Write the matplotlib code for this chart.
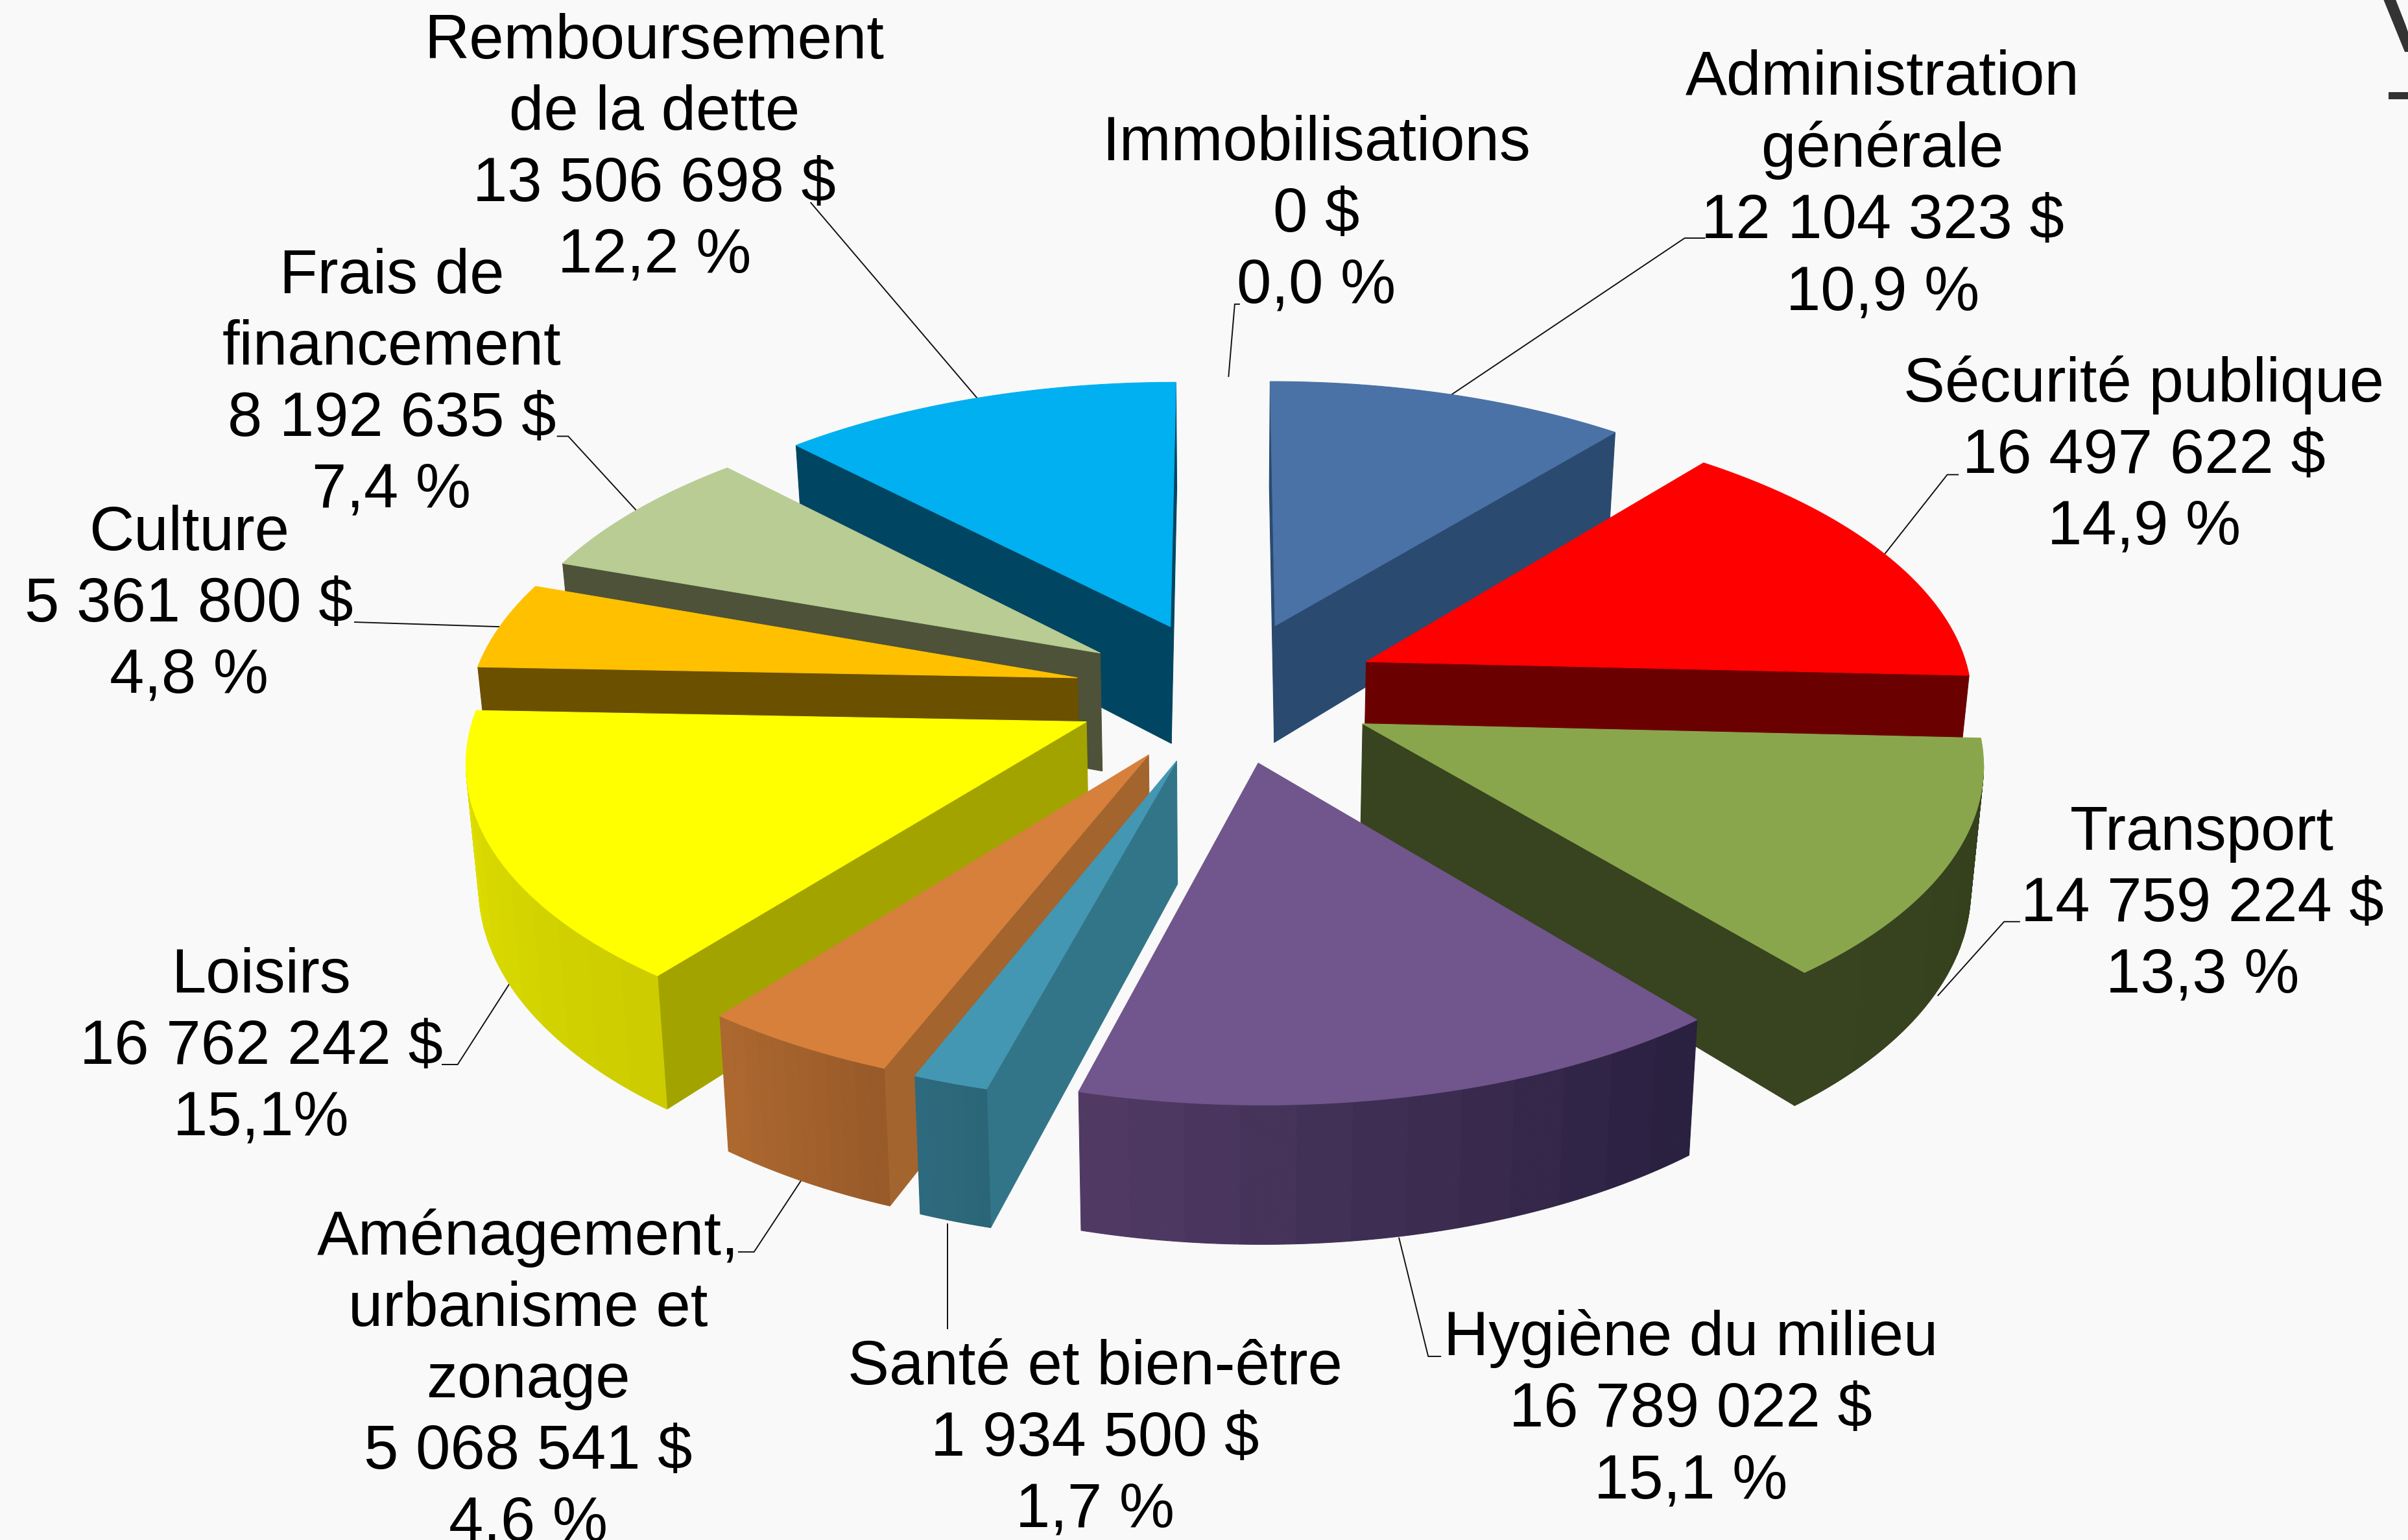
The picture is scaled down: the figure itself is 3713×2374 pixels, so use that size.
import numpy as np
import matplotlib
matplotlib.use('Agg')
import matplotlib.pyplot as plt

plt.rcParams['font.family'] = ['Liberation Sans', 'DejaVu Sans']

# postes de depenses, dans le sens horaire a partir de midi
noms = ['Administration\ngénérale', 'Sécurité publique', 'Transport', 'Hygiène du milieu',
        'Santé et bien-être', 'Aménagement,\nurbanisme et\nzonage', 'Loisirs', 'Culture',
        'Frais de\nfinancement', 'Remboursement\nde la dette', 'Immobilisations']
montants = [12104323, 16497622, 14759224, 16789022, 1934500, 5068541, 16762242, 5361800,
            8192635, 13506698, 0]
parts = ['10,9 %', '14,9 %', '13,3 %', '15,1 %', '1,7 %', '4,6 %', '15,1%', '4,8 %',
         '7,4 %', '12,2 %', '0,0 %']

# couleurs : dessus, paroi, tranche claire, tranche foncee
c_dessus = ['#4A72A6', '#FF0000', '#8AA64C', '#70568C', '#4397B2', '#D6803C', '#FFFF00',
            '#FFC000', '#B8CC94', '#00B0F0', '#000000']
c_paroi = ['#2A4A70', '#6B0000', '#38431F', '#2B2140', '#337588', '#A3642E', '#A3A300',
           '#6B5000', '#4D5238', '#004561', '#000000']
c_tranche1 = ['#2A4A70', '#6B0000', '#38431F', '#503A64', '#2E6A7D', '#AD682F', '#E2E200',
              '#6B5000', '#4D5238', '#004561', '#000000']
c_tranche2 = ['#2A4A70', '#6B0000', '#343F1C', '#2A2040', '#2B6578', '#985A29', '#CCCC00',
              '#6B5000', '#4D5238', '#004561', '#000000']

# position des etiquettes et des traits de rappel (en pixels de l'image reduite a 1568 de large)
etiq_x = [1226, 1396, 1434, 1101, 713, 344, 170, 123, 255, 426, 857]
etiq_y = [121, 297, 589, 918, 937, 899, 682, 394, 250, 97, 140]
rappels = [
    [(1110, 155), (1097, 155), (945, 257)],
    [(1275, 309), (1268, 309), (1227, 361)],
    [(1315, 600), (1305, 600), (1262, 648)],
    [(938, 883), (930, 883), (911, 806)],
    [(617, 865), (617, 797)],
    [(481, 815), (491, 815), (522, 768)],
    [(288, 693), (298, 693), (332, 640)],
    [(231, 405), (325, 408)],
    [(363, 284), (370, 284), (415, 333)],
    [(528, 132), (637, 260)],
    [(807, 198), (804, 198), (800, 245)],
]

S = 3713 / 1568
CX, CY = 798, 450     # centre de la tarte
RX, RY = 395, 186     # rayons
BX, BY = 0.115, 0.113 # perspective
H = 78                # epaisseur
explode = [0.25, 0.257, 0.25, 0.25, 0.25, 0.25, 0.25, 0.25, 0.25, 0.25, 0.25]


def proj(X, Y, z=0):
    # z=0 dessus, z=1 dessous
    X = np.asarray(X, dtype=float)
    Y = np.asarray(Y, dtype=float)
    z = np.asarray(z, dtype=float)
    fx = 1 / (1 - BX * Y)
    fy = 1 / (1 - BY * Y)
    x = CX + RX * X * fx * (1 - 0.017 * z)
    y = CY + RY * Y * fy + z * H * fy
    return x * S, y * S


def remplir(ax, X, Y, Z, couleur):
    x, y = proj(X, Y, Z)
    ax.fill(x, y, color=couleur, lw=0.8, zorder=2)


def melange(c1, c2, t):
    a = np.array(matplotlib.colors.to_rgb(c1))
    b = np.array(matplotlib.colors.to_rgb(c2))
    return a + (b - a) * t


fig = plt.figure(figsize=(37.13, 23.74), dpi=100, facecolor='#F9F9F9')
ax = fig.add_axes([0, 0, 1, 1])
ax.set_xlim(0, 3713)
ax.set_ylim(2374, 0)
ax.axis('off')

total = sum(montants)
bornes = np.cumsum([0] + montants) / total * 2 * np.pi
milieux = (bornes[:-1] + bornes[1:]) / 2

# traits de rappel sous les parts
for i in range(len(noms)):
    xs = [p[0] * S for p in rappels[i]]
    ys = [p[1] * S for p in rappels[i]]
    ax.plot(xs, ys, color='#111111', lw=1.4, zorder=1)

# du fond vers l'avant
ordre = np.argsort(-np.cos(milieux))
for i in ordre:
    if montants[i] == 0:
        continue
    a0, a1 = bornes[i], bornes[i + 1]
    ox = explode[i] * np.sin(milieux[i])
    oy = -explode[i] * np.cos(milieux[i])
    t = np.linspace(a0, a1, 120)
    rx = ox + np.sin(t)
    ry = oy - np.cos(t)

    # parois radiales
    cam = np.array([-ox, 1 / BX - oy])
    for a, sens in [(a0, -1), (a1, 1)]:
        n = sens * np.array([np.cos(a), np.sin(a)])
        if n @ cam > 0:
            ex = ox + np.sin(a)
            ey = oy - np.cos(a)
            remplir(ax, [ox, ex, ex, ox], [oy, ey, ey, oy], [0, 0, 1, 1], c_paroi[i])

    # tranche courbe, en petites bandes pour le degrade
    for k in range(len(t) - 1):
        mid = (t[k] + t[k + 1]) / 2
        nx, ny = np.sin(mid), -np.cos(mid)
        if nx * (0 - ox - nx) + ny * (1 / BX - oy - ny) > 0:
            u = np.floor((k / (len(t) - 1)) * 12) / 11
            # le degrade va de gauche a droite a l'ecran, donc a l'envers du sens horaire
            remplir(ax, [rx[k], rx[k + 1], rx[k + 1], rx[k]], [ry[k], ry[k + 1], ry[k + 1], ry[k]],
                    [0, 0, 1, 1], melange(c_tranche2[i], c_tranche1[i], u))

    # dessus
    remplir(ax, np.r_[ox, rx], np.r_[oy, ry], np.zeros(len(rx) + 1), c_dessus[i])

# etiquettes
for i in range(len(noms)):
    montant = f'{montants[i]:,}'.replace(',', ' ') + ' $'
    ax.text(etiq_x[i] * S, etiq_y[i] * S, noms[i] + '\n' + montant + '\n' + parts[i], ha='center',
            va='center', multialignment='center', fontsize=69, color='black', linespacing=1.285,
            zorder=5)

# bout du titre coupe par le bord de l'image
ax.text(3650, 80, 'V', fontsize=144, color='#333333', ha='left', va='baseline', clip_on=True)
ax.text(3683, 190, '–', fontsize=122, color='#333333', ha='left', va='baseline', clip_on=True)

fig.savefig('out.png', dpi=100, facecolor=fig.get_facecolor())
